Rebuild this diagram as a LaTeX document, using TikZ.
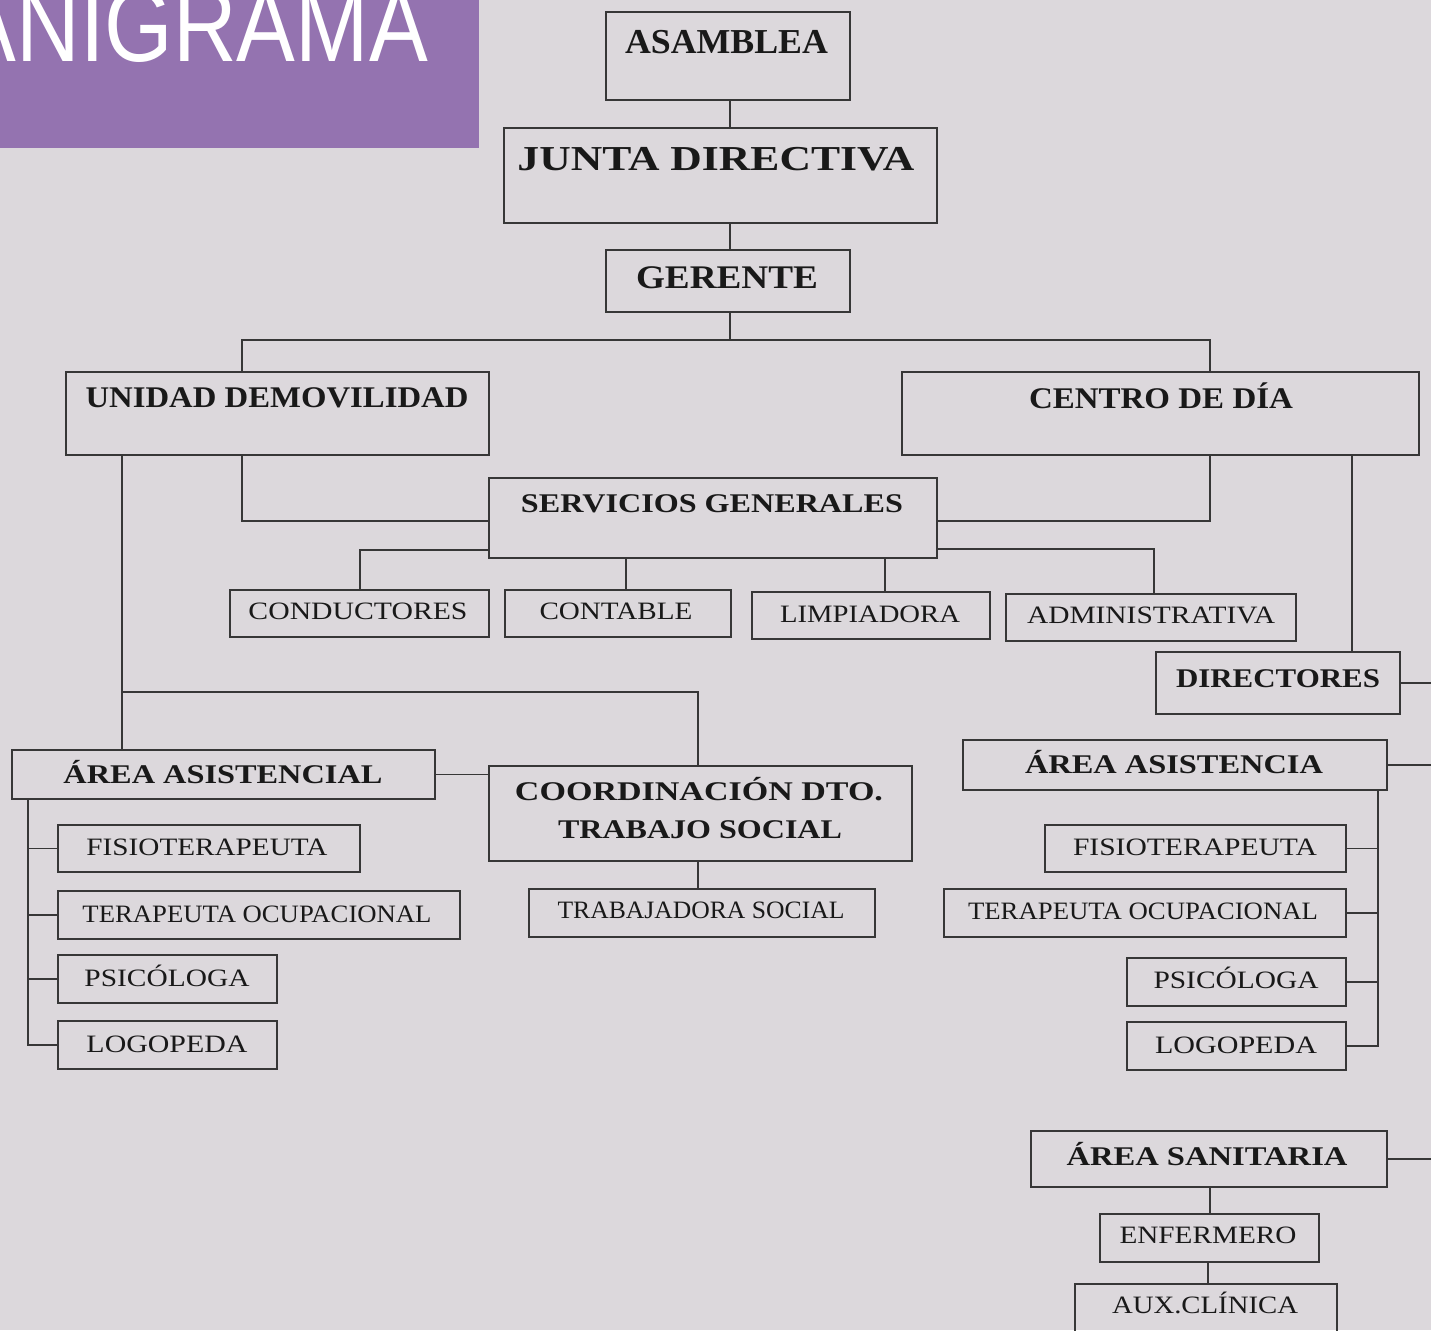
\documentclass[tikz,border=0pt]{standalone}
\usepackage{fontspec}
\usepackage{graphicx}
\setmainfont{Liberation Serif}
\newfontfamily\titlefam{Liberation Sans}
\definecolor{bgc}{RGB}{220,216,220}
\definecolor{purp}{RGB}{148,115,176}
\definecolor{linec}{RGB}{55,55,55}
\definecolor{txtc}{RGB}{25,25,25}
\newcommand\fbold[1]{\fontsize{#1}{#1}\selectfont\bfseries}
\newcommand\freg[1]{\fontsize{#1}{#1}\selectfont}
\tikzset{
  boxst/.style={draw=linec, line width=1.6pt, inner sep=0pt, outer sep=0pt, rectangle},
  txtst/.style={anchor=base, inner sep=0pt, outer sep=0pt, text=txtc},
  conn/.style={draw=linec, line width=1.6pt}
}
\newcommand\mybox[5]{\node[boxst, minimum width={#4-#2}, minimum height={#5-#3}] (#1) at ({(#2+#4)/2},{(#3+#5)/2}) {};}
\newcommand\mytext[6]{\node[txtst, font={#4}] (#1) at (#2,#3) {\resizebox{#5pt}{\height}{#6}};}
\begin{document}
\begin{tikzpicture}[x=1pt,y=-1pt]
\useasboundingbox (0,0) rectangle (1431,1330);
\clip (0,0) rectangle (1431,1330);
\fill[bgc] (0,0) rectangle (1431,1330);
% title banner
\fill[purp] (0,0) rectangle (479,148);
\node[anchor=base east, inner sep=0pt, text=white, font={\titlefam\fontsize{105}{105}\selectfont}] (title) at (428,62) {\resizebox{470pt}{\height}{ANIGRAMA}};
% boxes
\mybox{asam}{606}{12}{850}{100}
\mybox{junta}{504}{128}{937}{223}
\mybox{ger}{606}{250}{850}{312}
\mybox{unidad}{66}{372}{489}{455}
\mybox{centro}{902}{372}{1419}{455}
\mybox{sg}{489}{478}{937}{558}
\mybox{cond}{230}{590}{489}{637}
\mybox{cont}{505}{590}{731}{637}
\mybox{limp}{752}{592}{990}{639}
\mybox{admin}{1006}{594}{1296}{641}
\mybox{dir}{1156}{652}{1400}{714}
\mybox{aal}{12}{750}{435}{799}
\mybox{coord}{489}{766}{912}{861}
\mybox{trab}{529}{889}{875}{937}
\mybox{fl}{58}{825}{360}{872}
\mybox{tl}{58}{891}{460}{939}
\mybox{pl}{58}{955}{277}{1003}
\mybox{ll}{58}{1021}{277}{1069}
\mybox{aar}{963}{740}{1387}{790}
\mybox{fr}{1045}{825}{1346}{872}
\mybox{tr}{944}{889}{1346}{937}
\mybox{pr}{1127}{958}{1346}{1006}
\mybox{lr}{1127}{1022}{1346}{1070}
\mybox{san}{1031}{1131}{1387}{1187}
\mybox{enf}{1100}{1214}{1319}{1262}
\mybox{aux}{1075}{1284}{1337}{1350}
% texts
\mytext{tasam}{726.5}{53}{\fbold{35}}{203}{ASAMBLEA}
\mytext{tjunta}{716}{170}{\fbold{35}}{397}{JUNTA DIRECTIVA}
\mytext{tger}{727}{288}{\fbold{33}}{182}{GERENTE}
\mytext{tunidad}{277}{407}{\fbold{30}}{383}{UNIDAD DEMOVILIDAD}
\mytext{tcentro}{1161}{408}{\fbold{30}}{264}{CENTRO DE DÍA}
\mytext{tsg}{712}{512}{\fbold{27}}{382}{SERVICIOS GENERALES}
\mytext{tcond}{358}{619}{\freg{25}}{219}{CONDUCTORES}
\mytext{tcont}{616}{619}{\freg{25}}{153}{CONTABLE}
\mytext{tlimp}{870}{622}{\freg{25}}{180}{LIMPIADORA}
\mytext{tadmin}{1151}{623}{\freg{25}}{248}{ADMINISTRATIVA}
\mytext{tdir}{1278}{687}{\fbold{27}}{204}{DIRECTORES}
\mytext{taal}{223}{783}{\fbold{27}}{319}{ÁREA ASISTENCIAL}
\mytext{tfl}{207}{855}{\freg{25}}{241}{FISIOTERAPEUTA}
\mytext{ttl}{257}{922}{\freg{25}}{349}{TERAPEUTA OCUPACIONAL}
\mytext{tpl}{167}{986}{\freg{25}}{165}{PSICÓLOGA}
\mytext{tll}{167}{1052}{\freg{25}}{161}{LOGOPEDA}
\mytext{taar}{1174}{773}{\fbold{27}}{298}{ÁREA ASISTENCIA}
\mytext{tfr}{1195}{855}{\freg{25}}{244}{FISIOTERAPEUTA}
\mytext{ttr}{1143}{919}{\freg{25}}{350}{TERAPEUTA OCUPACIONAL}
\mytext{tpr}{1236}{988}{\freg{25}}{165}{PSICÓLOGA}
\mytext{tlr}{1236}{1053}{\freg{25}}{162}{LOGOPEDA}
\mytext{tcoord}{699}{800}{\fbold{27}}{368}{COORDINACIÓN DTO.}
\mytext{tcoordb}{700}{838}{\fbold{27}}{284}{TRABAJO SOCIAL}
\mytext{ttrab}{701}{918}{\freg{25}}{287}{TRABAJADORA SOCIAL}
\mytext{tsan}{1207}{1165}{\fbold{27}}{281}{ÁREA SANITARIA}
\mytext{tenf}{1208}{1243}{\freg{25}}{177}{ENFERMERO}
\mytext{taux}{1205}{1313}{\freg{25}}{186}{AUX.CLÍNICA}
% helper coordinates
\coordinate (vtop) at (730,0);
\coordinate (busL) at (242,340);
\coordinate (busR) at (1210,340);
\coordinate (ug) at (242,521);
\coordinate (cg) at (1210,521);
\coordinate (sc) at (360,550);
\coordinate (sct) at (626,0);
\coordinate (slp) at (885,0);
\coordinate (sad) at (1154,549);
\coordinate (dc) at (1352,0);
\coordinate (ua) at (122,0);
\coordinate (uc) at (698,692);
\coordinate (ct) at (698,0);
\coordinate (lv) at (28,0);
\coordinate (rv) at (1378,0);
\coordinate (sv) at (1210,0);
\coordinate (ev) at (1208,0);
\coordinate (redge) at (1440,0);
% connectors
\draw[conn] (vtop |- asam.south) -- (vtop |- junta.north);
\draw[conn] (vtop |- junta.south) -- (vtop |- ger.north);
\draw[conn] (vtop |- ger.south) -- (vtop |- busL);
\draw[conn] (busL |- unidad.north) -- (busL) -- (busR) -- (busR |- centro.north);
\draw[conn] (ug |- unidad.south) -- (ug) -- (ug -| sg.west);
\draw[conn] (cg |- centro.south) -- (cg) -- (cg -| sg.east);
\draw[conn] (sc -| sg.west) -- (sc) -- (sc |- cond.north);
\draw[conn] (sct |- sg.south) -- (sct |- cont.north);
\draw[conn] (slp |- sg.south) -- (slp |- limp.north);
\draw[conn] (sad -| sg.east) -- (sad) -- (sad |- admin.north);
\draw[conn] (dc |- centro.south) -- (dc |- dir.north);
\draw[conn] (dir.east) -- (dir.east -| redge);
\draw[conn] (ua |- unidad.south) -- (ua |- aal.north);
\draw[conn] (ua |- uc) -- (uc) -- (uc |- coord.north);
\draw[conn] (aal.east) -- (aal.east -| coord.west);
\draw[conn] (ct |- coord.south) -- (ct |- trab.north);
\draw[conn] (lv |- aal.south) -- (lv |- ll.west) -- (ll.west);
\draw[conn] (lv |- fl.west) -- (fl.west);
\draw[conn] (lv |- tl.west) -- (tl.west);
\draw[conn] (lv |- pl.west) -- (pl.west);
\draw[conn] (aar.east) -- (aar.east -| redge);
\draw[conn] (rv |- aar.south) -- (rv |- lr.east) -- (lr.east);
\draw[conn] (rv |- fr.east) -- (fr.east);
\draw[conn] (rv |- tr.east) -- (tr.east);
\draw[conn] (rv |- pr.east) -- (pr.east);
\draw[conn] (san.east) -- (san.east -| redge);
\draw[conn] (sv |- san.south) -- (sv |- enf.north);
\draw[conn] (ev |- enf.south) -- (ev |- aux.north);
\end{tikzpicture}
\end{document}
